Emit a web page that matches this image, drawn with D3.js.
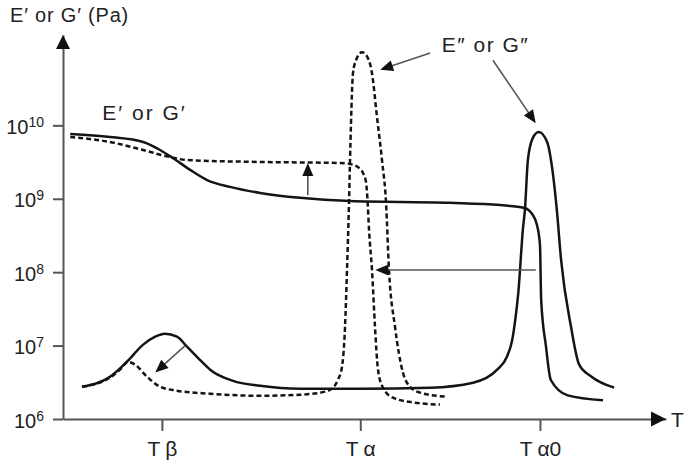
<!DOCTYPE html>
<html><head><meta charset="utf-8">
<script src="https://cdn.jsdelivr.net/npm/d3@7"></script>
<style>
body{margin:0;background:#fff}
svg{display:block;font-family:"Liberation Sans",Arial,Helvetica,sans-serif}
</style></head><body>
<svg id="chart" width="691" height="464"></svg>
<script>
// ---- data (schematic temperature units 0..100, modulus in Pa) ----
const xDomain = [0, 100];
const yDomain = [1e6, 1.7e11];
const xTickValues = [16.4, 49.3, 79.1];
const xTickMain = ["T", "T", "T"];
const xTickSub = ["β", "α", "α0"];
const yTickValues = [1e6, 1e7, 1e8, 1e9, 1e10];
const yTickBase = ["10", "10", "10", "10", "10"];
const yTickExponents = ["6", "7", "8", "9", "10"];
const yAxisTitle = "E′ or G′ (Pa)";
const xAxisTitle = "T";
const storageLabel = "E′ or G′";
const lossLabel = "E″ or G″";

// solid: reference material, storage modulus
const neatStorage = [
  [1.2, 7.62e9], [7.8, 6.93e9], [13.3, 5.93e9], [16.1, 4.61e9], [18.2, 3.59e9],
  [21.1, 2.47e9], [23.9, 1.80e9], [27.7, 1.45e9], [32.7, 1.20e9], [39.3, 1.03e9],
  [47.6, 9.3e8], [64.2, 8.8e8], [72.5, 8.2e8], [76.5, 7.5e8], [77.8, 6.2e8],
  [78.6, 4.4e8], [79.1, 2.35e8], [79.3, 4.2e7], [80.1, 9.7e6], [80.9, 3.4e6],
  [83.7, 2.1e6], [89.55, 1.8e6]
];
// solid: reference material, loss modulus
const neatLoss = [
  [3.15, 2.75e6], [7.8, 3.77e6], [10.6, 6.03e6], [13.3, 1.03e7], [15.3, 1.32e7],
  [16.9, 1.45e7], [18.9, 1.32e7], [20.6, 9.6e6], [22.7, 6.4e6], [24.4, 4.7e6],
  [28.2, 3.3e6], [32.7, 2.84e6], [39.3, 2.59e6], [49.3, 2.59e6], [60.9, 2.67e6],
  [68.0, 3.12e6], [72.0, 4.7e6], [73.6, 7.0e6], [74.5, 1.2e7], [75.0, 2.24e7],
  [75.5, 5.2e7], [76.3, 4.1e8], [76.6, 7.0e8], [77.1, 3.4e9], [77.9, 6.7e9],
  [78.9, 8.1e9], [80.3, 5.9e9], [81.1, 2.7e9], [81.9, 7.0e8], [82.6, 1.47e8],
  [84.25, 1.8e7], [85.6, 5.5e6], [87.6, 3.8e6], [91.4, 2.67e6]
];
// dashed: modified material, storage modulus
const modStorage = [
  [1.2, 6.93e9], [7.8, 5.93e9], [13.3, 4.61e9], [17.7, 3.7e9], [20.6, 3.37e9],
  [32.7, 3.17e9], [45.9, 3.07e9], [47.6, 2.97e9], [48.9, 2.7e9], [49.75, 2.24e9],
  [50.25, 1.69e9], [50.5, 9.6e8], [50.75, 3.76e8], [51.24, 1.08e8], [51.74, 1.8e7],
  [52.24, 4.7e6], [53.07, 2.67e6], [54.73, 1.95e6], [58.37, 1.67e6], [62.52, 1.57e6]
];
// dashed: modified material, loss modulus
const modLoss = [
  [3.15, 2.75e6], [7.79, 3.66e6], [9.45, 4.7e6], [10.78, 6.0e6], [11.94, 5.5e6],
  [13.93, 3.77e6], [16.09, 2.75e6], [18.9, 2.43e6], [24.38, 2.21e6], [32.67, 2.07e6],
  [39.3, 2.14e6], [43.45, 2.36e6], [44.78, 2.67e6], [45.6, 3.43e6], [46.27, 5.15e6],
  [46.77, 1.8e7], [47.1, 1.08e8], [47.43, 8.8e8], [47.6, 3.37e9], [47.76, 1.07e10],
  [48.09, 5.15e10], [48.59, 7.7e10], [49.59, 9.9e10], [50.58, 8.2e10], [51.24, 5.15e10],
  [52.07, 1.3e10], [52.9, 3.37e9], [53.57, 8.8e8], [54.06, 1.08e8], [55.06, 1.8e7],
  [56.38, 4.27e6], [57.55, 2.75e6], [59.2, 2.29e6], [63.68, 2.01e6]
];
// annotation arrows: [from, tip] in data units
const arrows = [
  [[40.6, 1.12e9], [40.6, 3.07e9]],
  [[78.4, 1.07e8], [51.8, 1.07e8]],
  [[20.2, 9.9e6], [15.3, 4.3e6]],
  [[60.9, 9.7e10], [52.6, 5.7e10]],
  [[71.3, 7.7e10], [78.4, 1.07e10]]
];
const storageLabelPos = [6.5, 1.18e10];
const lossLabelPos = [62.8, 9.95e10];

// ---- drawing ----
const svg = d3.select("#chart");
const x = d3.scaleLinear().domain(xDomain).range([63, 666]);
const y = d3.scaleLog().domain(yDomain).range([419, 35]);
const axisColor = "#555";

// axes
const gx = svg.append("g").attr("transform", "translate(0,419)")
  .call(d3.axisBottom(x).tickValues(xTickValues).tickSize(12).tickSizeOuter(0).tickPadding(10));
const gy = svg.append("g").attr("transform", "translate(63,0)")
  .call(d3.axisLeft(y).tickValues(yTickValues).tickSize(10).tickSizeOuter(0).tickPadding(9));
[gx, gy].forEach(g => {
  g.select(".domain").attr("stroke", axisColor).attr("stroke-width", 2);
  g.selectAll(".tick line").attr("stroke", axisColor).attr("stroke-width", 2);
  g.selectAll(".tick text").attr("fill", "#222").attr("font-size", 20)
    .attr("font-family", "'Liberation Sans',Arial,sans-serif");
});
gy.selectAll(".tick text").each(function (d, i) {
  const t = d3.select(this).text(null).attr("dy", "0.4em");
  t.append("tspan").text(yTickBase[i]);
  t.append("tspan").attr("dy", "-0.5em").attr("font-size", 14).text(yTickExponents[i]);
});
gx.selectAll(".tick text").attr("font-size", 21).each(function (d, i) {
  const t = d3.select(this).text(null);
  t.append("tspan").text(xTickMain[i]);
  t.append("tspan").attr("dx", 5).text(xTickSub[i]);
});
// axis arrowheads
svg.append("path").attr("fill", "#111")
  .attr("d", `M${x(xDomain[0])},${y(yDomain[1])} l-7,14 l14,0 z`);
svg.append("path").attr("fill", "#111")
  .attr("d", `M${x(xDomain[1])},${y(yDomain[0])} l-15,-7.5 l0,15 z`);
svg.append("text").attr("x", x(xDomain[1]) + 5).attr("y", y(yDomain[0]) + 8)
  .attr("font-size", 21).attr("fill", "#222").text(xAxisTitle);
svg.append("text").attr("x", 10).attr("y", 22)
  .attr("font-size", 20).attr("letter-spacing", 0.8).attr("fill", "#222").text(yAxisTitle);

// curves
const line = d3.line().x(d => x(d[0])).y(d => y(d[1])).curve(d3.curveMonotoneX);
const series = [
  { data: neatStorage, dash: null },
  { data: neatLoss, dash: null },
  { data: modStorage, dash: "5,3" },
  { data: modLoss, dash: "5,3" }
];
svg.append("g").selectAll("path").data(series).join("path")
  .attr("d", d => line(d.data))
  .attr("fill", "none").attr("stroke", "#141414").attr("stroke-width", 2.5)
  .attr("stroke-linejoin", "round")
  .attr("stroke-dasharray", d => d.dash);

// annotation arrows
const ag = svg.append("g");
arrows.forEach(([a, b]) => {
  const x1 = x(a[0]), y1 = y(a[1]), x2 = x(b[0]), y2 = y(b[1]);
  const dx = x2 - x1, dy = y2 - y1, len = Math.hypot(dx, dy);
  const ux = dx / len, uy = dy / len, hl = 13, hw = 5.5;
  const bx = x2 - ux * hl, by = y2 - uy * hl;
  ag.append("line").attr("x1", x1).attr("y1", y1).attr("x2", bx + ux * 2).attr("y2", by + uy * 2)
    .attr("stroke", "#555").attr("stroke-width", 1.6);
  ag.append("path").attr("fill", "#111")
    .attr("d", `M${x2},${y2} L${bx - uy * hw},${by + ux * hw} L${bx + uy * hw},${by - ux * hw} Z`);
});

// labels
svg.append("text").attr("x", x(storageLabelPos[0])).attr("y", y(storageLabelPos[1]))
  .attr("font-size", 21).attr("fill", "#222").attr("letter-spacing", 2).text(storageLabel);
svg.append("text").attr("x", x(lossLabelPos[0])).attr("y", y(lossLabelPos[1]))
  .attr("font-size", 21).attr("fill", "#222").attr("letter-spacing", 1.5).text(lossLabel);
</script>
</body></html>
